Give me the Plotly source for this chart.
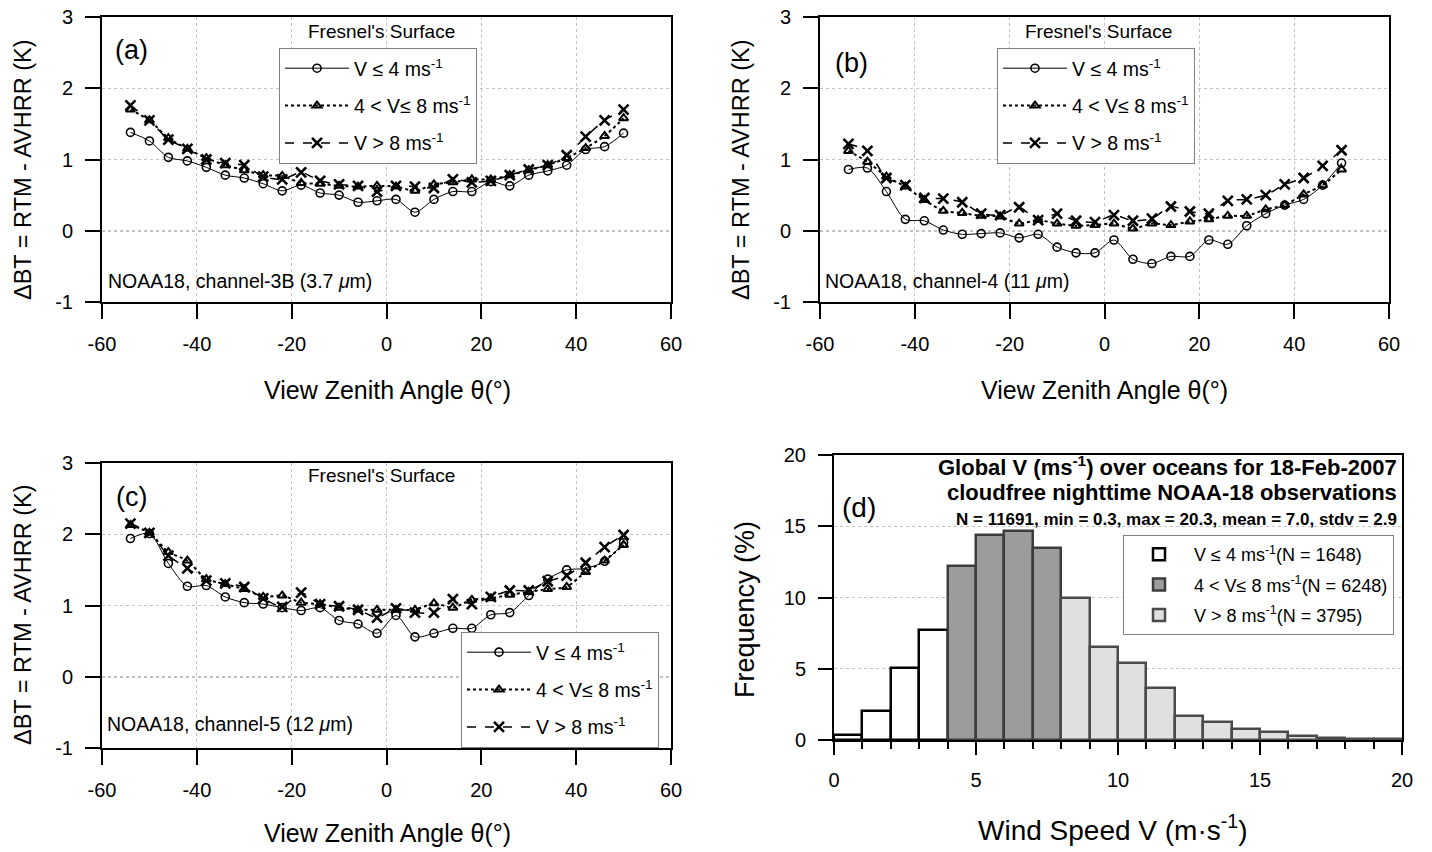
import plotly.graph_objects as go

# The page body has an 8px margin, so the figure is drawn 8px in from the
# top-left corner; positions below are given in screen pixels and shifted.
OFF = 8
W, H = 1432 - OFF, 852 - OFF
FONT = "Liberation Sans, Arial, sans-serif"

# ---------------- data ----------------
theta = [-54, -50, -46, -42, -38, -34, -30, -26, -22, -18, -14, -10, -6, -2,
         2, 6, 10, 14, 18, 22, 26, 30, 34, 38, 42, 46, 50]

# (a) channel-3B
a_low = [1.38, 1.26, 1.03, 0.98, 0.89, 0.78, 0.74, 0.66, 0.56, 0.64, 0.53, 0.50, 0.40, 0.42,
         0.44, 0.26, 0.44, 0.55, 0.55, 0.69, 0.63, 0.78, 0.84, 0.92, 1.14, 1.18, 1.37]
a_mid = [1.70, 1.55, 1.30, 1.15, 1.02, 0.92, 0.85, 0.78, 0.77, 0.67, 0.66, 0.63, 0.62, 0.63,
         0.62, 0.56, 0.65, 0.68, 0.72, 0.72, 0.78, 0.85, 0.92, 1.02, 1.16, 1.33, 1.58]
a_high = [1.76, 1.55, 1.28, 1.15, 1.00, 0.95, 0.92, 0.76, 0.72, 0.82, 0.70, 0.65, 0.63, 0.55,
          0.63, 0.62, 0.60, 0.72, 0.68, 0.70, 0.78, 0.86, 0.92, 1.06, 1.32, 1.55, 1.70]

# (b) channel-4
b_low = [0.86, 0.88, 0.55, 0.16, 0.14, 0.01, -0.05, -0.04, -0.03, -0.10, -0.05, -0.23, -0.31, -0.31,
         -0.13, -0.40, -0.46, -0.36, -0.36, -0.13, -0.19, 0.07, 0.24, 0.36, 0.44, 0.64, 0.95]
b_mid = [1.12, 0.97, 0.76, 0.62, 0.43, 0.28, 0.25, 0.21, 0.20, 0.10, 0.15, 0.10, 0.07, 0.08,
         0.10, 0.03, 0.10, 0.08, 0.13, 0.16, 0.21, 0.21, 0.30, 0.36, 0.51, 0.64, 0.86]
b_high = [1.22, 1.12, 0.74, 0.64, 0.46, 0.45, 0.40, 0.24, 0.22, 0.33, 0.15, 0.24, 0.14, 0.12,
          0.22, 0.14, 0.17, 0.34, 0.27, 0.24, 0.42, 0.44, 0.50, 0.65, 0.74, 0.91, 1.13]

# (c) channel-5
c_low = [1.94, 2.01, 1.59, 1.27, 1.28, 1.12, 1.04, 1.02, 0.97, 0.93, 0.97, 0.79, 0.74, 0.61,
         0.86, 0.56, 0.61, 0.68, 0.68, 0.87, 0.90, 1.14, 1.37, 1.50, 1.52, 1.62, 1.88]
c_mid = [2.13, 2.02, 1.75, 1.63, 1.37, 1.30, 1.23, 1.12, 1.14, 1.04, 1.02, 0.97, 0.94, 0.94,
         0.94, 0.94, 1.03, 0.97, 1.08, 1.10, 1.15, 1.19, 1.23, 1.26, 1.47, 1.63, 1.85]
c_high = [2.15, 2.02, 1.70, 1.52, 1.35, 1.31, 1.26, 1.10, 0.98, 1.18, 1.02, 0.99, 0.94, 0.83,
          0.96, 0.90, 0.90, 1.09, 1.02, 1.12, 1.21, 1.21, 1.34, 1.42, 1.60, 1.82, 1.99]

# (d) wind speed histogram (bin centres, % frequency)
wind_bins = [0.5, 1.5, 2.5, 3.5, 4.5, 5.5, 6.5, 7.5, 8.5, 9.5,
             10.5, 11.5, 12.5, 13.5, 14.5, 15.5, 16.5, 17.5, 18.5, 19.5]
wind_freq = [0.35, 2.06, 5.02, 7.70, 12.24, 14.42, 14.65, 13.50, 9.98, 6.54,
             5.37, 3.62, 1.71, 1.24, 0.79, 0.54, 0.30, 0.16, 0.08, 0.05]

series_names = ["V ≤ 4 ms<sup>-1</sup>", "4 &lt; V≤ 8 ms<sup>-1</sup>", "V &gt; 8 ms<sup>-1</sup>"]
hist_names = ["V ≤ 4 ms<sup>-1</sup>(N = 1648)", "4 &lt; V≤ 8 ms<sup>-1</sup>(N = 6248)",
              "V &gt; 8 ms<sup>-1</sup>(N = 3795)"]

x_ticks = [-60, -40, -20, 0, 20, 40, 60]
x_ticktext = ["-60", "-40", "-20", "0", "20", "40", "60"]
y_ticks = [-1, 0, 1, 2, 3]
y_ticktext = ["-1", "0", "1", "2", "3"]
d_ticks = [0, 5, 10, 15, 20]


def px(x):
    return (x - OFF) / W


def py(y):
    return 1 - (y - OFF) / H


fig = go.Figure()

styles = [
    dict(line=dict(color="black", width=1, dash="solid", shape="spline", smoothing=0.8),
         marker=dict(symbol="circle-open", size=8, color="black", line=dict(width=1.6, color="black"))),
    dict(line=dict(color="black", width=2, dash="dot", shape="spline", smoothing=0.6),
         marker=dict(symbol="triangle-up-open", size=8, color="black", line=dict(width=2, color="black"))),
    dict(line=dict(color="black", width=1.5, dash="dash", shape="spline", smoothing=0.6),
         marker=dict(symbol="x-thin-open", size=10, color="black", line=dict(width=2.6, color="black"))),
]

panels = [
    ("x", "y", "legend", [a_low, a_mid, a_high]),
    ("x2", "y2", "legend2", [b_low, b_mid, b_high]),
    ("x3", "y3", "legend3", [c_low, c_mid, c_high]),
]
for xa, ya, lg, sets in panels:
    for i, vals in enumerate(sets):
        fig.add_trace(go.Scatter(
            x=theta, y=vals, mode="lines+markers", name=series_names[i],
            xaxis=xa, yaxis=ya, legend=lg, legendgroup=f"{lg}_{i}",
            line=styles[i]["line"], marker=styles[i]["marker"]))

# histogram
groups = [(0, 4, "white", "black"), (4, 8, "#9c9c9c", "#3c3c3c"), (8, 20, "#e0e0e0", "#4a4a4a")]
for k, (s, e, fill, edge) in enumerate(groups):
    fig.add_trace(go.Bar(
        x=wind_bins[s:e], y=wind_freq[s:e], width=1, name=hist_names[k],
        xaxis="x4", yaxis="y4", legend="legend4", legendgroup=f"h{k}",
        marker=dict(color=fill, line=dict(color=edge, width=2.5))))

tickfont = dict(family=FONT, size=20, color="black")


def xaxis_style(domain, anchor):
    return dict(domain=domain, anchor=anchor, range=[-60, 60], tickvals=x_ticks,
                ticktext=x_ticktext, automargin=False, ticklabeloverflow="allow",
                ticks="outside", ticklen=15, tickwidth=2, tickcolor="black",
                showline=True, linecolor="black", linewidth=2, mirror=True,
                showgrid=True, gridcolor="#c4c4c4", griddash="dot", gridwidth=1,
                zeroline=False, tickfont=tickfont, ticklabelstandoff=8, fixedrange=True)


def yaxis_style(domain, anchor):
    return dict(domain=domain, anchor=anchor, range=[-1, 3], tickvals=y_ticks,
                ticktext=y_ticktext, automargin=False, ticklabeloverflow="allow",
                ticks="outside", ticklen=15, tickwidth=2, tickcolor="black",
                showline=True, linecolor="black", linewidth=2, mirror=True,
                showgrid=True, gridcolor="#c4c4c4", griddash="dot", gridwidth=1,
                zeroline=False, tickfont=tickfont, ticklabelstandoff=8, fixedrange=True)


dom_ax = [px(102), px(671)]
dom_bx = [px(820), px(1389)]
dom_top = [py(302), py(17)]
dom_bot = [py(748), py(463)]

legend_common = dict(bgcolor="white", bordercolor="#808080", borderwidth=1,
                     font=dict(family=FONT, size=19.5, color="black"),
                     xanchor="left", yanchor="top", tracegroupgap=9,
                     traceorder="grouped", itemwidth=64)

fig.update_layout(
    width=W, height=H, margin=dict(l=0, r=0, t=0, b=0, autoexpand=False),
    paper_bgcolor="white", plot_bgcolor="white",
    font=dict(family=FONT, color="black"),
    bargap=0,
    xaxis=xaxis_style(dom_ax, "y"), yaxis=yaxis_style(dom_top, "x"),
    xaxis2=xaxis_style(dom_bx, "y2"), yaxis2=yaxis_style(dom_top, "x2"),
    xaxis3=xaxis_style(dom_ax, "y3"), yaxis3=yaxis_style(dom_bot, "x3"),
    xaxis4=dict(domain=[px(834), px(1402)], anchor="y4", range=[0, 20], automargin=False,
                ticklabeloverflow="allow",
                tickvals=d_ticks, ticks="outside", ticklen=13, tickwidth=2,
                tickcolor="black", minor=dict(dtick=1, ticks="outside", ticklen=7,
                                              tickwidth=2, tickcolor="black", showgrid=False),
                showline=True, linecolor="black", linewidth=2, mirror=True,
                showgrid=False, zeroline=False, tickfont=tickfont, ticklabelstandoff=8,
                fixedrange=True),
    yaxis4=dict(domain=[py(740), py(455)], anchor="x4", range=[0, 20], automargin=False,
                ticklabeloverflow="allow",
                tickvals=d_ticks, ticks="outside", ticklen=14, tickwidth=2,
                tickcolor="black", showline=True, linecolor="black", linewidth=2, mirror=True,
                showgrid=True, gridcolor="#c4c4c4", griddash="dot", gridwidth=1,
                zeroline=False, tickfont=tickfont, ticklabelstandoff=8, fixedrange=True),
    legend=dict(legend_common, x=px(279), y=py(48)),
    legend2=dict(legend_common, x=px(997), y=py(48)),
    legend3=dict(legend_common, x=px(461), y=py(632)),
    legend4=dict(legend_common, x=px(1123), y=py(535), itemwidth=60,
                 font=dict(family=FONT, size=18, color="black"), tracegroupgap=4),
    showlegend=True,
)

# dotted black zero reference lines in panels a-c
shapes = []
for xa, ya in [("x", "y"), ("x2", "y2"), ("x3", "y3")]:
    shapes.append(dict(type="line", xref=xa, yref=f"{ya} domain", x0=0, x1=0, y0=0, y1=1,
                       line=dict(color="black", width=1, dash="dot"), layer="below"))
    shapes.append(dict(type="line", xref=f"{xa} domain", yref=ya, x0=0, x1=1, y0=0, y1=0,
                       line=dict(color="black", width=1, dash="dot"), layer="below"))
fig.update_layout(shapes=shapes)

ann = []


def add_text(text, x, y, size, xanchor="center", yanchor="middle", angle=0, bold=False):
    if bold:
        text = f"<b>{text}</b>"
    ann.append(dict(text=text, x=px(x), y=py(y), xref="paper", yref="paper",
                    showarrow=False, xanchor=xanchor, yanchor=yanchor, textangle=angle,
                    font=dict(family=FONT, size=size, color="black")))


ytitle = "ΔBT = RTM - AVHRR (K)"
xtitle = "View Zenith Angle θ(°)"
add_text(ytitle, 23, 170, 23.5, angle=-90)
add_text(ytitle, 741, 170, 23.5, angle=-90)
add_text(ytitle, 23, 615, 23.5, angle=-90)
add_text(xtitle, 387, 390, 25)
add_text(xtitle, 1104, 390, 25)
add_text(xtitle, 387, 833, 25)
add_text("Frequency (%)", 745, 610, 27, angle=-90)
add_text("Wind Speed V (m·s<sup>-1</sup>)", 1113, 828, 28)

add_text("(a)", 131, 50, 27)
add_text("(b)", 851, 63, 27)
add_text("(c)", 131, 497, 27)
add_text("(d)", 859, 507, 28)

add_text("Fresnel's Surface", 381, 32, 19)
add_text("Fresnel's Surface", 1098, 32, 19)
add_text("Fresnel's Surface", 381, 476, 19)

add_text("NOAA18, channel-3B (3.7 <i>μ</i>m)", 106, 281, 19.5, xanchor="left")
add_text("NOAA18, channel-4 (11 <i>μ</i>m)", 823, 281, 19.5, xanchor="left")
add_text("NOAA18, channel-5 (12 <i>μ</i>m)", 105, 724, 19.5, xanchor="left")

add_text("Global V (ms<sup>-1</sup>) over oceans for 18-Feb-2007", 1399, 466, 22,
         xanchor="right", bold=True)
add_text("cloudfree nighttime NOAA-18 observations", 1399, 493, 22, xanchor="right", bold=True)
add_text("N = 11691, min = 0.3, max = 20.3, mean = 7.0, stdv = 2.9", 1399, 519, 17,
         xanchor="right", bold=True)

fig.update_layout(annotations=ann)

fig.write_html("out.html")
